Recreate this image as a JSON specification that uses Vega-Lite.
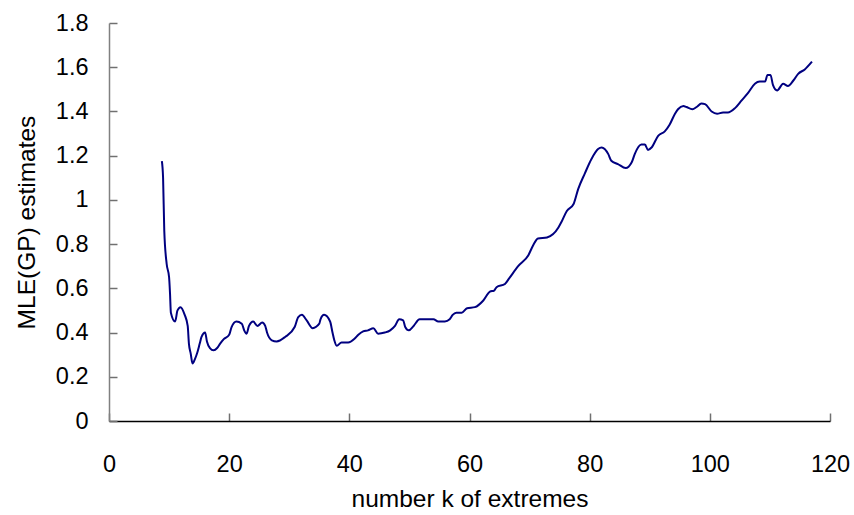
{
  "$schema": "https://vega.github.io/schema/vega-lite/v6.json",
  "width": 721,
  "height": 398,
  "autosize": "none",
  "padding": {"left": 109, "top": 23, "right": 24, "bottom": 94},
  "background": "white",
  "config": {
    "view": {"stroke": null},
    "font": "Liberation Sans",
    "axis": {"grid": false, "ticks": true, "labelFont": "Liberation Sans", "titleFont": "Liberation Sans", "labelColor": "black", "titleColor": "black", "titleFontWeight": "normal"}
  },
  "data": {
    "values": [
      {"k": 8.8, "v": 1.175},
      {"k": 9.0, "v": 1.1},
      {"k": 9.2, "v": 0.86},
      {"k": 9.6, "v": 0.71},
      {"k": 10.0, "v": 0.65},
      {"k": 10.15, "v": 0.58},
      {"k": 10.3, "v": 0.49},
      {"k": 11.0, "v": 0.45},
      {"k": 11.4, "v": 0.5},
      {"k": 11.9, "v": 0.515},
      {"k": 12.6, "v": 0.48},
      {"k": 13.1, "v": 0.43},
      {"k": 13.3, "v": 0.35},
      {"k": 13.6, "v": 0.305},
      {"k": 13.9, "v": 0.26},
      {"k": 14.3, "v": 0.28},
      {"k": 14.7, "v": 0.31},
      {"k": 15.1, "v": 0.35},
      {"k": 15.4, "v": 0.38},
      {"k": 16.0, "v": 0.4},
      {"k": 16.3, "v": 0.36},
      {"k": 16.8, "v": 0.33},
      {"k": 17.4, "v": 0.32},
      {"k": 18.0, "v": 0.33},
      {"k": 18.5, "v": 0.35},
      {"k": 19.1, "v": 0.37},
      {"k": 20.0, "v": 0.39},
      {"k": 20.4, "v": 0.425},
      {"k": 21.2, "v": 0.45},
      {"k": 22.1, "v": 0.44},
      {"k": 22.5, "v": 0.41},
      {"k": 22.9, "v": 0.395},
      {"k": 23.3, "v": 0.43},
      {"k": 24.0, "v": 0.45},
      {"k": 24.7, "v": 0.43},
      {"k": 25.5, "v": 0.445},
      {"k": 26.0, "v": 0.43},
      {"k": 26.3, "v": 0.4},
      {"k": 27.1, "v": 0.365},
      {"k": 27.9, "v": 0.36},
      {"k": 29.3, "v": 0.38},
      {"k": 30.9, "v": 0.425},
      {"k": 31.5, "v": 0.47},
      {"k": 32.1, "v": 0.48},
      {"k": 32.9, "v": 0.455},
      {"k": 33.9, "v": 0.42},
      {"k": 35.0, "v": 0.44},
      {"k": 35.2, "v": 0.46},
      {"k": 35.8, "v": 0.48},
      {"k": 36.8, "v": 0.45},
      {"k": 37.2, "v": 0.4},
      {"k": 37.5, "v": 0.365},
      {"k": 37.9, "v": 0.34},
      {"k": 38.7, "v": 0.355},
      {"k": 39.8, "v": 0.355},
      {"k": 40.9, "v": 0.373},
      {"k": 41.5, "v": 0.39},
      {"k": 42.3, "v": 0.405},
      {"k": 43.1, "v": 0.41},
      {"k": 44.0, "v": 0.42},
      {"k": 44.8, "v": 0.395},
      {"k": 45.9, "v": 0.4},
      {"k": 46.8, "v": 0.41},
      {"k": 47.6, "v": 0.43},
      {"k": 48.3, "v": 0.46},
      {"k": 48.96, "v": 0.455},
      {"k": 49.3, "v": 0.425},
      {"k": 49.9, "v": 0.41},
      {"k": 50.7, "v": 0.43},
      {"k": 51.7, "v": 0.46},
      {"k": 54.0, "v": 0.46},
      {"k": 54.8, "v": 0.45},
      {"k": 55.9, "v": 0.45},
      {"k": 56.7, "v": 0.46},
      {"k": 57.2, "v": 0.48},
      {"k": 57.8, "v": 0.49},
      {"k": 58.7, "v": 0.49},
      {"k": 59.6, "v": 0.51},
      {"k": 60.9, "v": 0.515},
      {"k": 62.3, "v": 0.545},
      {"k": 63.4, "v": 0.585},
      {"k": 64.1, "v": 0.59},
      {"k": 64.5, "v": 0.605},
      {"k": 65.9, "v": 0.62},
      {"k": 66.6, "v": 0.645},
      {"k": 68.1, "v": 0.7},
      {"k": 69.8, "v": 0.75},
      {"k": 70.6, "v": 0.795},
      {"k": 71.4, "v": 0.825},
      {"k": 72.9, "v": 0.83},
      {"k": 74.8, "v": 0.875},
      {"k": 75.3, "v": 0.9},
      {"k": 76.2, "v": 0.95},
      {"k": 77.3, "v": 0.98},
      {"k": 78.1, "v": 1.05},
      {"k": 79.2, "v": 1.12},
      {"k": 80.3, "v": 1.185},
      {"k": 81.4, "v": 1.23},
      {"k": 82.0, "v": 1.237},
      {"k": 83.1, "v": 1.207},
      {"k": 83.6, "v": 1.177},
      {"k": 84.7, "v": 1.162},
      {"k": 86.0, "v": 1.144},
      {"k": 87.0, "v": 1.17},
      {"k": 87.5, "v": 1.207},
      {"k": 88.6, "v": 1.25},
      {"k": 89.2, "v": 1.25},
      {"k": 89.7, "v": 1.226},
      {"k": 90.3, "v": 1.237},
      {"k": 91.4, "v": 1.29},
      {"k": 92.5, "v": 1.31},
      {"k": 93.3, "v": 1.34},
      {"k": 94.2, "v": 1.39},
      {"k": 94.7, "v": 1.41},
      {"k": 95.6, "v": 1.425},
      {"k": 96.1, "v": 1.42},
      {"k": 97.1, "v": 1.41},
      {"k": 97.8, "v": 1.42},
      {"k": 98.6, "v": 1.436},
      {"k": 99.2, "v": 1.433},
      {"k": 100.3, "v": 1.4},
      {"k": 101.2, "v": 1.39},
      {"k": 102.2, "v": 1.395},
      {"k": 103.0, "v": 1.395},
      {"k": 104.2, "v": 1.415},
      {"k": 105.3, "v": 1.45},
      {"k": 106.4, "v": 1.485},
      {"k": 107.5, "v": 1.525},
      {"k": 108.3, "v": 1.535},
      {"k": 109.2, "v": 1.535},
      {"k": 109.6, "v": 1.565},
      {"k": 110.1, "v": 1.565},
      {"k": 110.5, "v": 1.52},
      {"k": 111.2, "v": 1.495},
      {"k": 112.2, "v": 1.525},
      {"k": 113.0, "v": 1.515},
      {"k": 113.9, "v": 1.54},
      {"k": 114.7, "v": 1.57},
      {"k": 115.8, "v": 1.59},
      {"k": 117.0, "v": 1.625}
    ]
  },
  "mark": {"type": "line", "color": "#000080", "strokeWidth": 2, "strokeJoin": "round", "interpolate": "monotone"},
  "encoding": {
    "x": {
      "field": "k", "type": "quantitative",
      "scale": {"domain": [0, 120], "nice": false, "zero": false},
      "axis": {
        "title": "number k of extremes",
        "values": [0, 20, 40, 60, 80, 100, 120],
        "format": "d",
        "domainColor": "black", "domainWidth": 1.5,
        "tickColor": "#707070", "tickSize": -8, "tickWidth": 1.5, "tickOpacity": 1,
        "labelFontSize": 23.5, "labelPadding": 39, "labelFlush": false,
        "titleFontSize": 24.5, "titlePadding": 12
      }
    },
    "y": {
      "field": "v", "type": "quantitative",
      "scale": {"domain": [0, 1.8], "nice": false},
      "axis": {
        "title": "MLE(GP) estimates",
        "values": [0, 0.2, 0.4, 0.6, 0.8, 1, 1.2, 1.4, 1.6, 1.8],
        "format": "~g",
        "domainColor": "#808080", "domainWidth": 1.5,
        "tickColor": "#707070", "tickSize": -8, "tickWidth": 1.5, "tickOpacity": 1,
        "labelFontSize": 23.5, "labelPadding": 29, "labelFlush": false,
        "titleFontSize": 24.5, "titlePadding": 16
      }
    }
  }
}
